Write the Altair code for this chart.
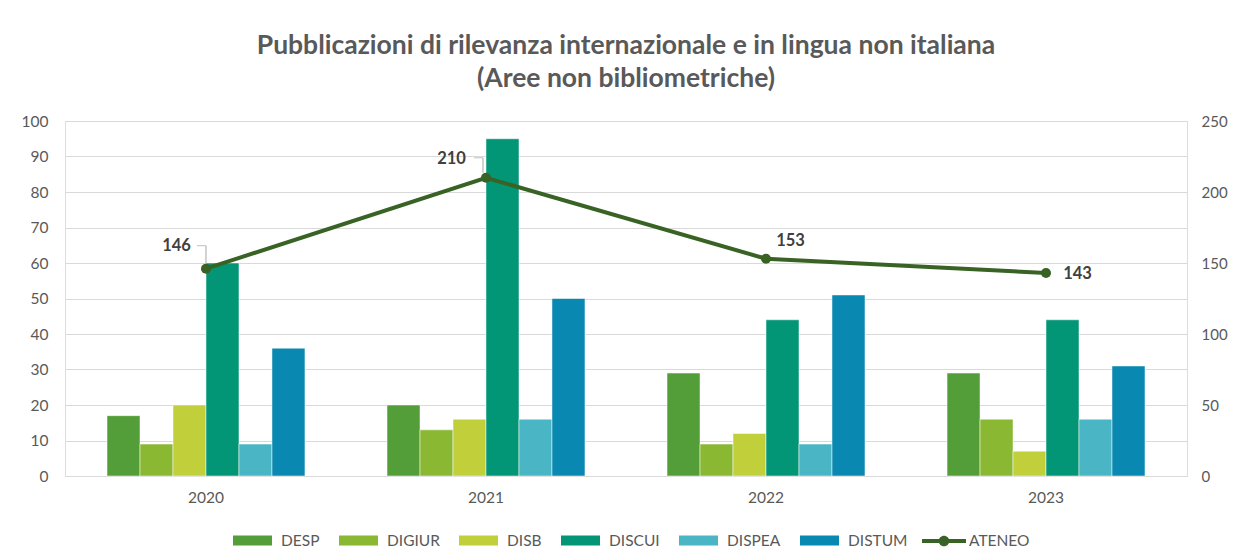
import altair as alt
import pandas as pd

years = ["2020", "2021", "2022", "2023"]
depts = ["DESP", "DIGIUR", "DISB", "DISCUI", "DISPEA", "DISTUM"]
desp = [17, 20, 29, 29]
digiur = [9, 13, 9, 16]
disb = [20, 16, 12, 7]
discui = [60, 95, 44, 44]
dispea = [9, 16, 9, 16]
distum = [36, 50, 51, 31]
ateneo = [146, 210, 153, 143]

colors = ["#549E39", "#8AB833", "#C0CF3A", "#029676", "#4AB5C4", "#0989B1"]
line_color = "#386324"
text_color = "#595959"
font = "Lato"

series = [desp, digiur, disb, discui, dispea, distum]
rows = []
for d, vals in zip(depts, series):
    for y, v in zip(years, vals):
        rows.append({"year": y, "dept": d, "value": v})
bars_df = pd.DataFrame(rows)
at_df = pd.DataFrame({"year": years, "ateneo": ateneo, "name": ["ATENEO"] * len(years)})

x_enc = alt.X("year:N", sort=years,
              scale=alt.Scale(paddingInner=0.293, paddingOuter=0.15),
              axis=alt.Axis(title=None, labelAngle=0, ticks=False, domain=True,
                            domainColor="#D9D9D9", labelPadding=14,
                            labelFont=font, labelFontSize=15.5, labelColor=text_color))

bar_sym = "M-1,-0.26L1,-0.26L1,0.26L-1,0.26Z"
line_sym = ("M-1,-0.09L1,-0.09L1,0.09L-1,0.09Z "
            "M-0.24,0A0.24,0.24 0 1,1 0.24,0A0.24,0.24 0 1,1 -0.24,0Z")

bars = alt.Chart(bars_df).mark_bar(stroke="white", strokeWidth=0.5).encode(
    x=x_enc,
    xOffset=alt.XOffset("dept:N", sort=depts, scale=alt.Scale(paddingInner=0, paddingOuter=0)),
    y=alt.Y("value:Q", scale=alt.Scale(domain=[0, 100]),
            axis=alt.Axis(title=None, values=list(range(0, 101, 10)), ticks=False,
                          domain=False, grid=True, gridColor="#D9D9D9", gridWidth=1,
                          labelPadding=17, labelFont=font, labelFontSize=15.5,
                          labelColor=text_color)),
    color=alt.Color("dept:N", scale=alt.Scale(domain=depts, range=colors),
                    legend=alt.Legend(title=None, orient="none", legendX=168, legendY=400,
                                      direction="horizontal", columns=6,
                                      symbolType=bar_sym, symbolSize=1521,
                                      symbolStrokeWidth=0, labelOffset=9,
                                      columnPadding=19, labelFont=font,
                                      labelFontSize=15.5, labelColor=text_color)),
)

y_right = alt.Y("ateneo:Q", scale=alt.Scale(domain=[0, 250]),
                axis=alt.Axis(title=None, orient="right", values=list(range(0, 251, 50)),
                              ticks=False, domain=False, grid=False, labelPadding=14,
                              labelFont=font, labelFontSize=15, labelColor=text_color))

base = alt.Chart(at_df)
line = base.mark_line(color=line_color, strokeWidth=4).encode(x=x_enc, y=y_right)
points = base.mark_point(filled=True, size=100, opacity=1).encode(
    x=x_enc, y=y_right,
    fill=alt.Fill("name:N", scale=alt.Scale(domain=["ATENEO"], range=[line_color]),
                  legend=alt.Legend(title=None, orient="none", legendX=856, legendY=397,
                                    symbolType=line_sym, symbolSize=1936,
                                    labelOffset=2, labelFont=font, labelFontSize=15.5,
                                    labelColor=text_color)),
)

label_offsets = {"2020": (-29.5, -22.5), "2021": (-34.5, -19), "2022": (24.5, -17.5), "2023": (31.5, 1)}
leader_offsets = {"2020": (-23, 0), "2021": (-20, -3)}

layers = [line, points]
for yr in years:
    dx, dy = label_offsets[yr]
    layers.append(
        base.transform_filter(alt.datum.year == yr).mark_text(
            dx=dx, dy=dy, font=font, fontSize=16.5, fontWeight="bold", color="#404040",
            align="center", baseline="middle"
        ).encode(x=x_enc, y=y_right, text=alt.Text("ateneo:Q"))
    )
for yr, (lift, xo) in leader_offsets.items():
    sub = base.transform_filter(alt.datum.year == yr)
    layers.append(sub.mark_rule(color="#A6A6A6", strokeWidth=1, y2Offset=lift, yOffset=-5,
                                xOffset=xo).encode(x=x_enc, y=y_right, y2="ateneo:Q"))
    layers.append(sub.mark_tick(color="#A6A6A6", thickness=1, size=9, orient="horizontal",
                                xOffset=xo - 4.5, yOffset=lift).encode(x=x_enc, y=y_right))

right = alt.layer(*layers)

chart = alt.layer(bars, right).resolve_scale(y="independent", color="independent").properties(
    width=1122, height=355,
    padding={"left": 57, "top": 113, "right": 41, "bottom": 76},
    autosize=alt.AutoSizeParams(type="none"),
    title=alt.TitleParams(
        text=["Pubblicazioni di rilevanza internazionale e in lingua non italiana",
              "(Aree non bibliometriche)"],
        anchor="middle", font=font, fontSize=26.5, fontWeight="bold", color=text_color,
        lineHeight=33, offset=22),
).configure_view(stroke=None).configure(background="white")

chart.save("out.html", embed_options={"renderer": "svg", "actions": False})
